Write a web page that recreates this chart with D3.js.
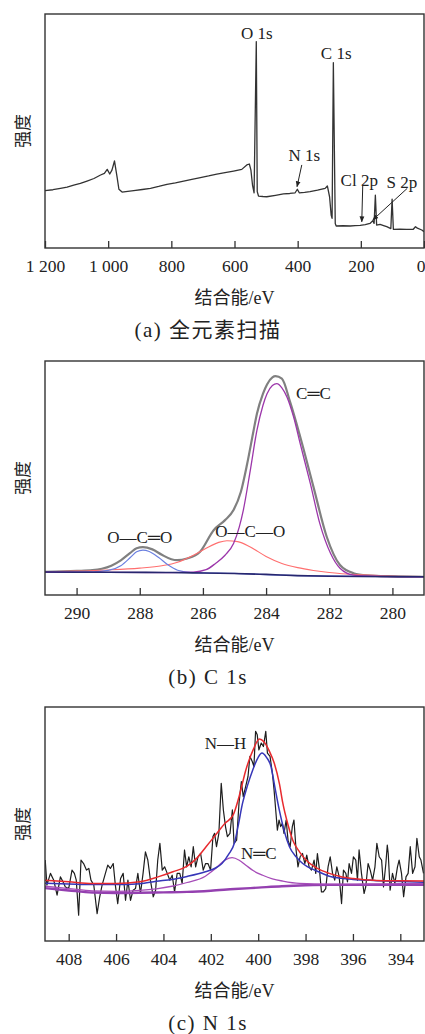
<!DOCTYPE html>
<html>
<head>
<meta charset="utf-8">
<script src="https://cdn.jsdelivr.net/npm/d3@7"></script>
<style>
  body { margin: 0; background: #fff; }
  text { font-family: "Liberation Serif", "Noto Sans CJK SC", serif; fill: #222; }
</style>
</head>
<body>
<svg id="chart" width="425" height="1034"></svg>
<script>
// (a) survey scan: [binding energy eV, intensity]
var surveyData = [
  [1200,24.5],[1175,24.9],[1151,25.5],[1130,26.0],[1109,26.9],[1088,27.6],[1067,28.6],[1045,29.7],
  [1024,31.2],[1012,31.9],[1003,33.6],[995,31.6],[988,33.3],[980,37.2],[972,30.5],[966,25.1],
  [956,23.9],[938,24.2],[919,24.5],[892,25.0],[866,25.5],[840,26.3],[814,27.2],[787,27.8],
  [761,28.6],[735,29.3],[708,30.1],[682,30.8],[656,31.6],[630,32.2],[603,32.9],[577,33.6],
  [561,35.5],[553,35.9],[548,33.3],[543,26.9],[538,23.6],[531,88.2],[528,24.1],[524,22.2],
  [510,22.0],[498,21.9],[470,22.5],[445,23.1],[425,23.3],[408,23.6],[401,25.1],[395,23.6],
  [378,23.8],[361,24.1],[337,24.7],[313,25.5],[306,26.5],[299,21.9],[294,14.1],[291,12.7],
  [287,79.2],[281,10.5],[278,9.4],[256,9.5],[234,9.4],[218,9.6],[202,9.7],[186,10.0],
  [171,10.5],[162,11.7],[158,10.5],[154,22.6],[150,9.8],[139,10.1],[128,9.6],[118,9.1],
  [105,8.3],[101,20.9],[97,8.0],[76,8.1],[55,8.0],[34,8.0],[27,9.1],[21,8.5],[7,7.7],[0,7.0]
];
var surveyTicks = [1200, 1000, 800, 600, 400, 200, 0];
var surveyLabels = [
  {text: "O 1s", x: 529, y: 91.9},
  {text: "C 1s", x: 278, y: 83.5},
  {text: "N 1s", x: 379, y: 39.7},
  {text: "Cl 2p", x: 205, y: 29.1},
  {text: "S 2p", x: 70, y: 28.3}
];
var surveyArrows = [
  {x1: 387, y1: 35.5, x2: 402, y2: 26.2},
  {x1: 194, y1: 26.5, x2: 197, y2: 11.2},
  {x1: 53, y1: 25.5, x2: 162, y2: 12.0}
];

// (b) C 1s
var c1sEnvelope = [
  [291,9.9],[290,10.3],[289.5,10.6],[289.2,11.2],[288.9,12.5],[288.6,14.8],[288.3,18.0],[288.1,20.0],
  [287.9,20.5],[287.6,19.5],[287.3,17.2],[287.0,15.3],[286.82,14.9],[286.5,15.6],[286.09,18.5],
  [285.66,27.7],[285.3,32.0],[285.03,36.3],[284.8,44.0],[284.6,56.0],[284.4,70.0],[284.29,77.5],
  [284.1,86.0],[283.97,90.0],[283.8,93.0],[283.7,93.5],[283.5,92.5],[283.24,82.5],[282.92,67.6],
  [282.5,46.2],[282.08,24.9],[281.66,12.8],[281.23,9.3],[280.8,8.4],[280,8.0],[279,7.8]
];
var c1sCC = [
  [291,9.8],[287,9.6],[286.3,9.8],[285.9,10.8],[285.6,13.5],[285.3,17.0],[285.03,22.0],[284.85,29.0],
  [284.72,36.3],[284.5,53.3],[284.29,70.4],[284.1,81.0],[283.97,86.0],[283.8,89.5],[283.66,90.3],
  [283.5,88.5],[283.34,84.6],[283.13,76.1],[282.92,64.7],[282.6,47.7],[282.3,30.6],[281.96,17.8],
  [281.66,11.4],[281.23,8.5],[280.5,8.0],[279,7.8]
];
var c1sOCO = [
  [291,9.9],[290,10.2],[289,10.7],[288,11.5],[287.3,12.5],[286.8,14.0],[286.3,17.0],[285.9,20.0],
  [285.5,22.5],[285.24,23.2],[284.9,22.8],[284.5,20.5],[284.0,16.5],[283.5,13.5],[283.0,11.7],
  [282.5,10.5],[282,9.6],[281,8.6],[280,8.1],[279,7.9]
];
var c1sOCdO = [
  [291,9.8],[289.5,9.9],[289,10.5],[288.6,12.5],[288.3,16.0],[288.1,18.5],[287.9,19.2],[287.7,18.6],
  [287.4,16.0],[287.1,12.8],[286.8,10.6],[286.4,9.7],[285,9.2],[283,8.3],[279,7.8]
];
var c1sBackground = [
  [291,9.8],[289,9.7],[287,9.6],[286,9.4],[285,9.2],[284,8.8],[283,8.3],[282,8.0],[281,7.9],[279,7.8]
];
var c1sTicks = [290, 288, 286, 284, 282, 280];
var c1sLabels = [
  {text: "C\u2550C", x: 282.5, y: 86.1},
  {text: "O\u2014C\u2550O", x: 288.0, y: 24.6},
  {text: "O\u2014C\u2014O", x: 284.5, y: 27.3}
];

// (c) N 1s
var n1sRaw = [
  [408.99,34.6],[408.92,23.9],[408.77,28.9],[408.63,26.0],[408.49,19.6],[408.35,27.4],[408.24,25.3],
  [408.14,23.1],[408.00,22.4],[407.86,30.3],[407.76,28.9],[407.68,26.0],[407.58,11.0],[407.48,34.6],
  [407.37,33.1],[407.25,30.3],[407.15,31.0],[407.06,26.0],[406.94,23.9],[406.80,11.7],[406.69,18.9],
  [406.59,23.9],[406.45,28.9],[406.35,32.4],[406.24,31.0],[406.12,33.1],[406.03,23.9],[405.93,16.0],
  [405.81,26.7],[405.70,28.9],[405.60,17.4],[405.50,26.0],[405.39,17.4],[405.28,21.7],[405.18,22.4],
  [405.08,28.9],[404.97,20.3],[404.86,28.9],[404.76,38.1],[404.66,34.6],[404.55,26.0],[404.43,18.9],
  [404.33,21.7],[404.24,34.6],[404.15,41.7],[404.05,30.3],[403.95,31.7],[403.84,28.9],[403.73,26.0],
  [403.63,28.1],[403.53,21.0],[403.42,28.9],[403.31,28.9],[403.21,24.6],[403.11,38.9],[403.02,31.7],
  [402.93,36.0],[402.83,31.7],[402.74,40.3],[402.64,31.7],[402.54,36.0],[402.43,37.4],[402.32,30.3],
  [402.22,33.1],[402.12,33.1],[402.01,30.3],[401.91,44.6],[401.84,46.0],[401.76,40.3],[401.66,46.0],
  [401.56,67.4],[401.47,56.0],[401.38,48.9],[401.30,44.6],[401.19,46.0],[401.09,56.0],[401.02,41.7],
  [400.91,43.1],[400.81,58.9],[400.71,68.1],[400.63,61.7],[400.53,66.0],[400.43,70.3],[400.35,78.9],
  [400.25,76.7],[400.18,74.6],[400.11,89.6],[400.04,88.1],[399.97,81.7],[399.87,84.6],[399.78,83.1],
  [399.68,89.6],[399.61,80.3],[399.50,78.9],[399.40,71.7],[399.33,64.6],[399.26,56.0],[399.19,47.4],
  [399.12,51.7],[399.05,48.9],[398.98,50.3],[398.91,46.0],[398.82,51.7],[398.74,43.1],[398.65,40.3],
  [398.56,48.9],[398.49,51.7],[398.40,38.9],[398.32,31.7],[398.23,36.0],[398.13,37.4],[398.03,33.1],
  [397.95,36.7],[397.85,31.7],[397.75,30.3],[397.64,34.6],[397.57,28.9],[397.50,37.4],[397.41,30.3],
  [397.33,21.0],[397.25,21.0],[397.15,22.4],[397.05,31.7],[396.96,36.0],[396.86,28.9],[396.77,26.0],
  [396.68,31.7],[396.58,27.4],[396.48,16.0],[396.40,30.3],[396.30,28.9],[396.23,25.3],[396.16,33.1],
  [396.06,28.9],[395.98,36.0],[395.88,34.6],[395.81,26.0],[395.74,38.9],[395.64,28.9],[395.53,20.3],
  [395.46,23.1],[395.36,33.1],[395.27,30.3],[395.17,26.0],[395.07,31.7],[394.99,41.7],[394.89,36.0],
  [394.79,34.6],[394.71,23.1],[394.61,33.1],[394.55,41.0],[394.51,37.4],[394.43,21.7],[394.33,28.9],
  [394.23,24.6],[394.12,31.7],[394.05,34.6],[393.95,28.9],[393.86,18.9],[393.76,27.4],[393.67,28.9],
  [393.58,40.3],[393.48,28.9],[393.38,31.7],[393.30,43.9],[393.20,36.0],[393.13,34.6],[393.02,28.9]
];
var n1sEnvelope = [
  [409,26.0],[408,25.3],[407,24.6],[406,24.6],[405,25.3],[404.2,27.5],[403.6,29.6],[403,32.0],
  [402.6,35.3],[402.2,40.3],[401.8,45.3],[401.4,50.3],[401.05,54.0],[400.8,62.0],[400.52,73.1],
  [400.2,82.0],[399.95,86.3],[399.75,85.0],[399.5,80.5],[399.32,76.0],[399.1,67.0],[398.96,58.9],
  [398.75,50.0],[398.54,43.1],[398.25,38.0],[397.98,34.6],[397.5,31.0],[397,28.9],[396.5,27.5],
  [396,26.7],[395,25.9],[394,25.7],[393,25.6]
];
var n1sNH = [
  [409,24.7],[408,24.4],[407,24.1],[406,24.1],[405,24.5],[404.3,25.5],[403.64,26.3],[403,27.6],
  [402.23,29.6],[401.8,31.2],[401.53,33.1],[401.25,37.0],[401.0,42.0],[400.85,49.0],[400.66,58.9],
  [400.45,66.5],[400.23,73.1],[400.0,78.5],[399.84,80.3],[399.65,78.5],[399.46,74.6],[399.3,66.0],
  [399.11,56.0],[398.9,47.0],[398.68,40.3],[398.4,36.0],[398.12,33.1],[397.5,29.8],[397,27.7],
  [396.5,26.8],[396,26.3],[395,25.8],[394,25.4],[393,25.1]
];
var n1sNC = [
  [409,23.4],[408,22.4],[407,21.4],[406,21.2],[405,21.6],[404.3,22.3],[403.64,23.4],[403,25.0],
  [402.23,27.7],[401.8,31.0],[401.39,34.6],[401.1,35.6],[400.8,34.5],[400.52,32.4],[400.2,30.0],
  [399.81,28.1],[399.4,26.6],[398.96,25.6],[398.26,24.6],[397,24.3],[396,24.3],[395,24.4],
  [394,24.5],[393,24.5]
];
var n1sBackground = [
  [409,22.6],[408,21.6],[407,20.7],[406,20.5],[405,20.6],[404,20.8],[403,21.0],[402,21.5],
  [401,22.2],[400,22.8],[399,23.4],[398,23.8],[397,24.0],[395,24.0],[393,24.0]
];
var n1sTicks = [408, 406, 404, 402, 400, 398, 396, 394];
var n1sLabels = [
  {text: "N\u2014H", x: 401.38, y: 84.8},
  {text: "N\u2550C", x: 399.97, y: 37.4}
];

var svg = d3.select("#chart");
var left = 45, right = 424;
var serif = "'Liberation Serif', 'Noto Sans CJK SC', serif";

svg.append("defs").append("marker")
  .attr("id", "arrow")
  .attr("viewBox", "0 0 10 10")
  .attr("refX", 9).attr("refY", 5)
  .attr("markerWidth", 6).attr("markerHeight", 6)
  .attr("orient", "auto")
  .append("path")
  .attr("d", "M0,1 L10,5 L0,9 z")
  .attr("fill", "#222");

function thousands(d) {
  return d >= 1000 ? Math.floor(d / 1000) + " " + d3.format("03d")(d % 1000) : d;
}

function drawPanel(opt) {
  var x = d3.scaleLinear().domain(opt.xDomain).range([left, right]);
  var y = d3.scaleLinear().domain([0, 100]).range([opt.bottom, opt.top]);

  var clipId = "clip-" + opt.id;
  svg.append("clipPath").attr("id", clipId)
    .append("rect")
    .attr("x", left).attr("y", opt.top)
    .attr("width", right - left).attr("height", opt.bottom - opt.top);

  var plot = svg.append("g").attr("clip-path", `url(#${clipId})`);

  opt.series.forEach(function(s) {
    var line = d3.line()
      .x(d => x(d[0]))
      .y(d => y(d[1]))
      .curve(s.curve || d3.curveLinear);
    plot.append("path")
      .datum(s.data)
      .attr("fill", "none")
      .attr("stroke", s.color)
      .attr("stroke-width", s.width)
      .attr("stroke-linejoin", "round")
      .attr("d", line);
  });

  // frame
  svg.append("rect")
    .attr("x", left).attr("y", opt.top)
    .attr("width", right - left).attr("height", opt.bottom - opt.top)
    .attr("fill", "none")
    .attr("stroke", "#333")
    .attr("stroke-width", 1.4);

  var ax = d3.axisBottom(x)
    .tickValues(opt.ticks)
    .tickSizeInner(-7)
    .tickSizeOuter(0)
    .tickPadding(12)
    .tickFormat(opt.tickFormat || (d => d));

  var g = svg.append("g")
    .attr("transform", `translate(0, ${opt.bottom})`)
    .call(ax)
    .attr("font-family", serif)
    .attr("font-size", 17.5);
  g.select(".domain").remove();
  g.selectAll(".tick line").attr("stroke", "#333").attr("stroke-width", 1.3);
  g.selectAll(".tick text")
    .attr("fill", "#222")
    .style("font-family", serif)
    .style("font-size", "17.5px");
  // last label sits on the right edge, keep it inside the page
  g.selectAll(".tick text").filter(d => x(d) > right - 3)
    .attr("text-anchor", "end")
    .attr("dx", 1);

  // labels
  opt.labels.forEach(function(l) {
    svg.append("text")
      .attr("x", x(l.x)).attr("y", y(l.y))
      .attr("dy", "0.35em")
      .attr("text-anchor", "middle")
      .style("font-size", "17px")
      .text(l.text);
  });

  (opt.arrows || []).forEach(function(a) {
    svg.append("line")
      .attr("x1", x(a.x1)).attr("y1", y(a.y1))
      .attr("x2", x(a.x2)).attr("y2", y(a.y2))
      .attr("stroke", "#222").attr("stroke-width", 1)
      .attr("marker-end", "url(#arrow)");
  });

  // y title
  svg.append("text")
    .attr("transform", `translate(23, ${(opt.top + opt.bottom) / 2}) rotate(-90)`)
    .attr("text-anchor", "middle")
    .attr("dy", "0.35em")
    .style("font-size", "17px")
    .text("强度");

  // x title
  svg.append("text")
    .attr("x", (left + right) / 2)
    .attr("y", opt.bottom + 50)
    .attr("dy", "0.35em")
    .attr("text-anchor", "middle")
    .style("font-size", "18px")
    .text("结合能/eV");

  // caption
  svg.append("text")
    .attr("x", 208)
    .attr("y", opt.bottom + 82)
    .attr("dy", "0.35em")
    .attr("text-anchor", "middle")
    .style("font-size", "21px")
    .style("letter-spacing", "1.5px")
    .text(opt.caption);
}

drawPanel({
  id: "a", top: 14, bottom: 248, xDomain: [1200, 0],
  ticks: surveyTicks, tickFormat: thousands,
  series: [{data: surveyData, color: "#333", width: 1.3}],
  labels: surveyLabels, arrows: surveyArrows,
  caption: "(a) 全元素扫描"
});

drawPanel({
  id: "b", top: 361, bottom: 595, xDomain: [291, 279],
  ticks: c1sTicks,
  series: [
    {data: c1sEnvelope, color: "#808080", width: 2.2, curve: d3.curveMonotoneX},
    {data: c1sOCO, color: "#ff6f6f", width: 1.1, curve: d3.curveMonotoneX},
    {data: c1sOCdO, color: "#6b80e0", width: 1.2, curve: d3.curveMonotoneX},
    {data: c1sCC, color: "#9c36aa", width: 1.3, curve: d3.curveMonotoneX},
    {data: c1sBackground, color: "#27276f", width: 1.6, curve: d3.curveMonotoneX}
  ],
  labels: c1sLabels,
  caption: "(b) C 1s"
});

drawPanel({
  id: "c", top: 707, bottom: 941, xDomain: [409, 393],
  ticks: n1sTicks,
  series: [
    {data: n1sRaw, color: "#1e1e1e", width: 1.2},
    {data: n1sBackground, color: "#9440b0", width: 2.4, curve: d3.curveMonotoneX},
    {data: n1sNC, color: "#a64cb8", width: 1.3, curve: d3.curveMonotoneX},
    {data: n1sNH, color: "#3636b8", width: 1.5, curve: d3.curveMonotoneX},
    {data: n1sEnvelope, color: "#e82a2e", width: 1.5, curve: d3.curveMonotoneX}
  ],
  labels: n1sLabels,
  caption: "(c) N 1s"
});
</script>
</body>
</html>
